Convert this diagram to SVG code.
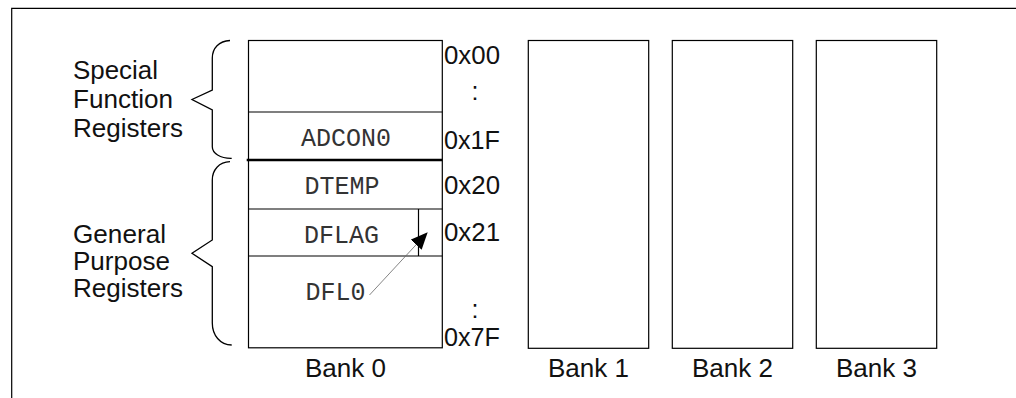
<svg xmlns="http://www.w3.org/2000/svg" width="1016" height="398" viewBox="0 0 1016 398">
<defs>
<style>
.frame{fill:none;stroke:#000;stroke-width:1.2}
.box{fill:#fff;stroke:#000;stroke-width:1.2}
.div{stroke:#000;stroke-width:1.2;fill:none}
.thick{stroke:#000;stroke-width:2.6;fill:none}
.brace{fill:none;stroke:#000;stroke-width:1.3}
.sans{font-family:"Liberation Sans",Arial,sans-serif;font-size:25px;fill:#111}
.mono{font-family:"Liberation Mono","Courier New",monospace;font-size:25px;fill:#333;text-anchor:middle}
.mid{text-anchor:middle}
.conn{stroke:#666;stroke-width:0.8;fill:none}
</style>
<marker id="ah" markerWidth="17" markerHeight="15" refX="16" refY="7.5" orient="auto" markerUnits="userSpaceOnUse">
<path d="M0,0 L17,7.5 L0,15 Z" fill="#000"/>
</marker>
</defs>
<rect width="1016" height="398" fill="#fff"/>
<path class="frame" d="M11.7,398 V8.3 H1016"/>

<g id="sfr-label">
<text class="sans" x="73" y="79" textLength="85" lengthAdjust="spacingAndGlyphs">Special</text>
<text class="sans" x="73" y="108" textLength="100" lengthAdjust="spacingAndGlyphs">Function</text>
<text class="sans" x="73" y="137" textLength="110" lengthAdjust="spacingAndGlyphs">Registers</text>
<path class="brace" d="M230,40.5 C219,41 212.3,48 212.3,58 V90 L192,99.5 L212.3,110 V146.7 C212.3,153 220,158.5 231.7,158.3"/>
</g>

<g id="gpr-label">
<text class="sans" x="73" y="243" textLength="93" lengthAdjust="spacingAndGlyphs">General</text>
<text class="sans" x="73" y="270" textLength="97" lengthAdjust="spacingAndGlyphs">Purpose</text>
<text class="sans" x="73" y="297" textLength="110" lengthAdjust="spacingAndGlyphs">Registers</text>
<path class="brace" d="M230,161.7 C219,162 212.3,170 212.3,180 V240 L192,253.3 L212.3,266.7 V323 C212.3,335 220,345 231.7,345"/>
</g>

<g id="bank0">
<rect class="box" x="248.5" y="40.5" width="193.8" height="307.3"/>
<line class="div" x1="248.5" y1="112" x2="442.3" y2="112"/>
<line class="thick" x1="246.7" y1="160" x2="442.3" y2="160"/>
<line class="div" x1="248.5" y1="209" x2="442.3" y2="209"/>
<line class="div" x1="248.5" y1="256" x2="442.3" y2="256"/>
<line class="div" x1="418.5" y1="209" x2="418.5" y2="256"/>
<text class="mono" x="346" y="146">ADCON0</text>
<text class="mono" x="342" y="194">DTEMP</text>
<text class="mono" x="341.5" y="243">DFLAG</text>
<text class="mono" x="335.5" y="300">DFL0</text>
<text class="sans mid" x="345.4" y="376.5" textLength="81" lengthAdjust="spacingAndGlyphs">Bank 0</text>
</g>

<g id="addresses">
<text class="sans" x="444" y="64" textLength="56" lengthAdjust="spacingAndGlyphs">0x00</text>
<text class="sans mid" x="475" y="100">:</text>
<text class="sans" x="444" y="149" textLength="56" lengthAdjust="spacingAndGlyphs">0x1F</text>
<text class="sans" x="444" y="194" textLength="56" lengthAdjust="spacingAndGlyphs">0x20</text>
<text class="sans" x="444" y="240.5" textLength="56" lengthAdjust="spacingAndGlyphs">0x21</text>
<text class="sans mid" x="475" y="318">:</text>
<text class="sans" x="444" y="346" textLength="56" lengthAdjust="spacingAndGlyphs">0x7F</text>
</g>

<g id="bank1">
<rect class="box" x="528.3" y="40.5" width="120.4" height="307.8"/>
<text class="sans mid" x="588.5" y="376.5" textLength="81" lengthAdjust="spacingAndGlyphs">Bank 1</text>
</g>
<g id="bank2">
<rect class="box" x="672.3" y="40.5" width="120.4" height="307.8"/>
<text class="sans mid" x="732.5" y="376.5" textLength="81" lengthAdjust="spacingAndGlyphs">Bank 2</text>
</g>
<g id="bank3">
<rect class="box" x="816.3" y="40.5" width="120.4" height="307.8"/>
<text class="sans mid" x="876.5" y="376.5" textLength="81" lengthAdjust="spacingAndGlyphs">Bank 3</text>
</g>

<g id="connectors">
<line class="conn" x1="369.5" y1="295" x2="427" y2="233" marker-end="url(#ah)"/>
</g>
</svg>
